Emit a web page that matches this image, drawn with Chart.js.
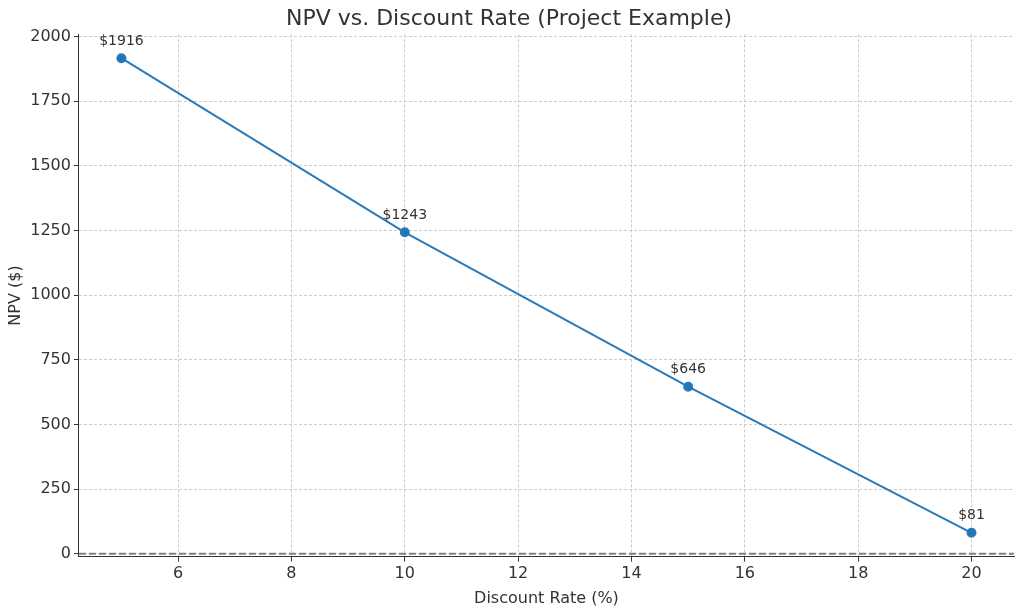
<!DOCTYPE html>
<html><head><meta charset="utf-8">
<script src="https://cdn.jsdelivr.net/npm/chart.js@4"></script>
<style>html,body{margin:0;padding:0;background:#fff}#w{width:1024px;height:610px}</style>
</head><body><div id="w"><canvas id="c"></canvas></div>
<script>
const rates = [5, 10, 15, 20];
const npvValues = [1916, 1243, 646, 81];
const pointLabels = ['$1916', '$1243', '$646', '$81'];
const yTicks = [0, 250, 500, 750, 1000, 1250, 1500, 1750, 2000];

const extras = {
  id: 'extras',
  afterDatasetsDraw(chart) {
    const ctx = chart.ctx, x = chart.scales.x, y = chart.scales.y;
    ctx.save();
    ctx.strokeStyle = '#808080'; ctx.lineWidth = 2; ctx.setLineDash([7, 3]);
    const y0 = y.getPixelForValue(0);
    ctx.beginPath(); ctx.moveTo(x.left, y0); ctx.lineTo(x.right, y0); ctx.stroke();
    ctx.setLineDash([]);
    ctx.fillStyle = '#333'; ctx.font = '14px "DejaVu Sans"'; ctx.textAlign = 'center'; ctx.textBaseline = 'bottom';
    rates.forEach((r, i) => ctx.fillText(pointLabels[i], x.getPixelForValue(r), y.getPixelForValue(npvValues[i]) - 10));
    ctx.restore();
  }
};

new Chart(document.getElementById('c'), {
  type: 'line',
  data: { datasets: [{ data: rates.map((r, i) => ({ x: r, y: npvValues[i] })),
    borderColor: '#2a7ab9', backgroundColor: '#1f77b4', borderWidth: 2,
    pointRadius: 4, pointHoverRadius: 4, tension: 0 }] },
  options: {
    responsive: true, maintainAspectRatio: false, animation: false,
    layout: { padding: { right: 10, top: 0, left: 4 } },
    plugins: { legend: { display: false }, tooltip: { enabled: false },
      title: { display: true, text: 'NPV vs. Discount Rate (Project Example)', color: '#333',
        font: { family: 'DejaVu Sans', size: 22, weight: 'normal' }, padding: { top: 6, bottom: 2 } } },
    scales: {
      x: { type: 'linear', min: 4.25, max: 20.75,
        afterBuildTicks: s => { s.ticks = [6, 8, 10, 12, 14, 16, 18, 20].map(v => ({ value: v })); },
        grid: { color: '#cccccc', tickColor: '#333', tickLength: 5 },
        border: { display: true, color: '#333', width: 1, dash: [3, 2] },
        ticks: { color: '#333', font: { family: 'DejaVu Sans', size: 16 }, callback: v => String(v) },
        title: { display: true, text: 'Discount Rate (%)', color: '#333', font: { family: 'DejaVu Sans', size: 16 }, padding: 2 } },
      y: { min: -11, max: 2008,
        afterBuildTicks: s => { s.ticks = yTicks.map(v => ({ value: v })); },
        grid: { color: '#cccccc', tickColor: '#333', tickLength: 5 },
        border: { display: true, color: '#333', width: 1, dash: [3, 2] },
        ticks: { color: '#333', font: { family: 'DejaVu Sans', size: 16 }, callback: v => String(v) },
        title: { display: true, text: 'NPV ($)', color: '#333', font: { family: 'DejaVu Sans', size: 16 }, padding: 2 } }
    }
  },
  plugins: [extras]
});
</script></body></html>
